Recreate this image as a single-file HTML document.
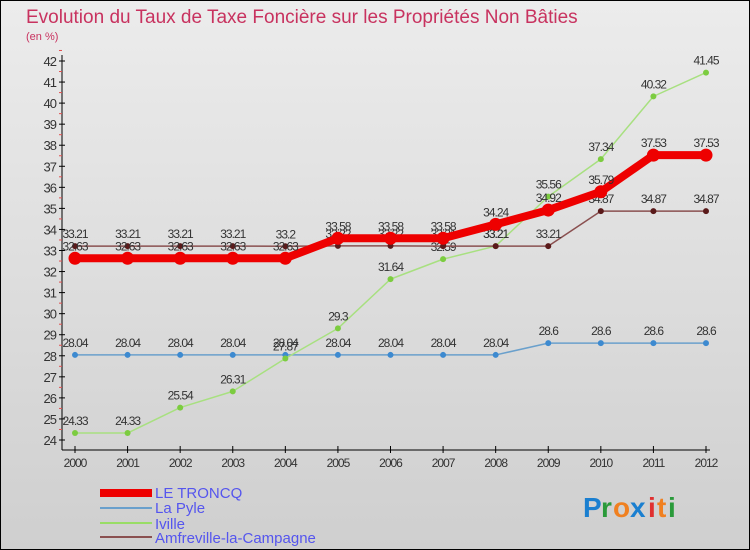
<!DOCTYPE html>
<html><head><meta charset="utf-8"><style>
body{margin:0;width:750px;height:550px;overflow:hidden;font-family:"Liberation Sans",sans-serif}
svg{display:block}
</style></head><body>
<svg id="c" width="750" height="550" xmlns="http://www.w3.org/2000/svg">
<defs><linearGradient id="bg" x1="0" y1="0" x2="0" y2="1"><stop offset="0" stop-color="#ececec"/><stop offset="1" stop-color="#cfcfcf"/></linearGradient></defs>
<rect x="0.5" y="0.5" width="749" height="549" fill="url(#bg)" stroke="#000"/>
<text x="26" y="23" font-size="19" fill="#c8325f">Evolution du Taux de Taxe Foncière sur les Propriétés Non Bâties</text>
<text x="26" y="40" font-size="11" fill="#c8325f">(en %)</text>
<g id="axes"></g><g id="series"></g>
<g>
<rect x="100" y="489" width="52" height="8" fill="#e00"/>
<text x="155" y="498" font-size="15" fill="#5555ee">LE TRONCQ</text>
<line x1="100" y1="508" x2="152" y2="508" stroke="#6aa0cc" stroke-width="2"/>
<text x="155" y="513" font-size="15" fill="#5555ee">La Pyle</text>
<line x1="100" y1="523" x2="152" y2="523" stroke="#99dd66" stroke-width="2"/>
<text x="155" y="529" font-size="15" fill="#5555ee">Iville</text>
<line x1="100" y1="537" x2="152" y2="537" stroke="#8a5050" stroke-width="2"/>
<text x="155" y="543" font-size="15" fill="#5555ee">Amfreville-la-Campagne</text>
</g>
<g font-size="28" font-weight="bold">
<text x="583" y="517" fill="#1a7fd0">P</text><text x="601" y="517" fill="#2a9a3a">r</text><text x="613" y="517" fill="#f08020">o</text><text x="630" y="517" fill="#1a7fd0">x</text><text x="648" y="517" fill="#e03030">i</text><text x="657" y="517" fill="#f08020">t</text><text x="668" y="517" fill="#2a9a3a">i</text>
</g>
</svg>
<script>
const years=[2000,2001,2002,2003,2004,2005,2006,2007,2008,2009,2010,2011,2012];
const yTicks=[24,25,26,27,28,29,30,31,32,33,34,35,36,37,38,39,40,41,42];
const leTroncq=[32.63,32.63,32.63,32.63,32.63,33.58,33.58,33.58,34.24,34.92,35.79,37.53,37.53];
const laPyle=[28.04,28.04,28.04,28.04,28.04,28.04,28.04,28.04,28.04,28.6,28.6,28.6,28.6];
const iville=[24.33,24.33,25.54,26.31,27.87,29.3,31.64,32.59,33.21,35.56,37.34,40.32,41.45];
const amfreville=[33.21,33.21,33.21,33.21,33.2,33.22,33.22,33.21,33.21,33.21,34.87,34.87,34.87];
const NS="http://www.w3.org/2000/svg";
const X=i=>75+i*(706-75)/(years.length-1);
const Y=v=>440-(v-24)*(440-61)/18;
function mk(t,a,p){const e=document.createElementNS(NS,t);for(const k in a)e.setAttribute(k,a[k]);p.appendChild(e);return e;}
const ax=document.getElementById('axes');
const yl=mk('line',{x1:62,y1:55,x2:62,y2:450,stroke:'#000'},ax);


const xl=mk('line',{x1:62,y1:450,x2:710,y2:450,stroke:'#000'},ax);


yTicks.forEach(v=>{
  mk('line',{x1:59,y1:Y(v),x2:65,y2:Y(v),stroke:'#000'},ax);
  mk('line',{x1:59,y1:Y(v+0.5),x2:62,y2:Y(v+0.5),stroke:'#e05050'},ax);
  const t=mk('text',{x:56,y:Y(v)+5,'font-size':13,'text-anchor':'end',fill:'#333','letter-spacing':'-1'},ax);t.textContent=v;
  
  
});
years.forEach((y,i)=>{
  mk('line',{x1:X(i),y1:446,x2:X(i),y2:453,stroke:'#000'},ax);
  const t=mk('text',{x:X(i),y:467,'font-size':12,'text-anchor':'middle',fill:'#333','letter-spacing':'-1'},ax);t.textContent=y;
  
  
});
const sg=document.getElementById('series');
function series(vals,name,col,w,r,dot,lab){
  const g=mk('g',{},sg);
  
  
  mk('polyline',{points:vals.map((v,i)=>X(i)+','+Y(v)).join(' '),fill:'none',stroke:col,'stroke-width':w,'stroke-linejoin':'round'},g);
  vals.forEach((v,i)=>{
    const c=mk('circle',{cx:X(i),cy:Y(v),r:r,fill:dot},g);
    
    
    const t=mk('text',{x:X(i),y:Y(v)-8,'font-size':12,'text-anchor':'middle',fill:'#333','letter-spacing':'-1'},g);
    t.textContent=String(v);
  });
}
series(laPyle,'series-la-pyle','#6aa0cc',1.5,3,'#3d8ad0');
series(iville,'series-iville','#a8e080',1.5,3,'#7ccc40');
series(amfreville,'series-amfreville','#8a5050',1.5,3,'#5a1a1a');
series(leTroncq,'series-le-troncq','#e00',8,6.5,'#e00');
</script>
</body></html>
